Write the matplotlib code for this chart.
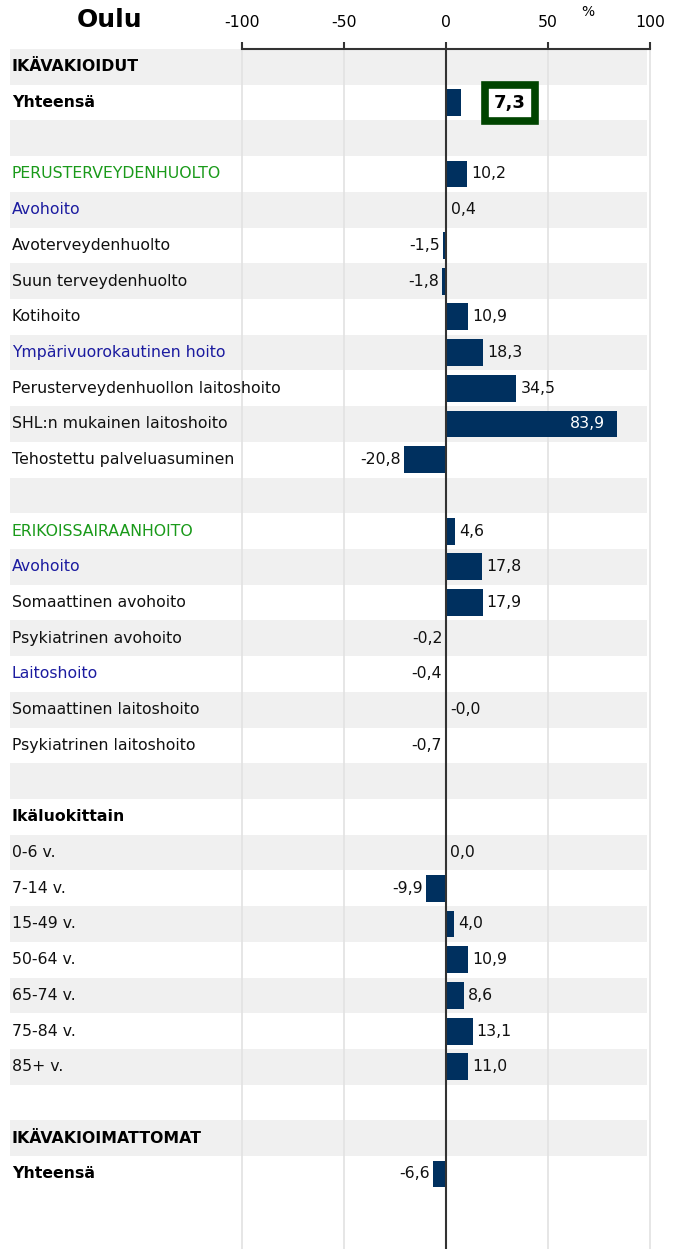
import numpy as np
import matplotlib

matplotlib.use("Agg")
import matplotlib.pyplot as plt

plt.rcParams["font.family"] = ["DejaVu Sans"]

# rivit ylhäältä alas
row_labels = [
    "IKÄVAKIOIDUT", "Yhteensä", "",
    "PERUSTERVEYDENHUOLTO", "Avohoito", "Avoterveydenhuolto", "Suun terveydenhuolto",
    "Kotihoito", "Ympärivuorokautinen hoito", "Perusterveydenhuollon laitoshoito",
    "SHL:n mukainen laitoshoito", "Tehostettu palveluasuminen", "",
    "ERIKOISSAIRAANHOITO", "Avohoito", "Somaattinen avohoito", "Psykiatrinen avohoito",
    "Laitoshoito", "Somaattinen laitoshoito", "Psykiatrinen laitoshoito", "",
    "Ikäluokittain", "0-6 v.", "7-14 v.", "15-49 v.", "50-64 v.", "65-74 v.",
    "75-84 v.", "85+ v.", "",
    "IKÄVAKIOIMATTOMAT", "Yhteensä",
]
row_kinds = [
    "head", "head", "",
    "main", "sub", "plain", "plain",
    "plain", "sub", "plain",
    "plain", "plain", "",
    "main", "sub", "plain", "plain",
    "sub", "plain", "plain", "",
    "head", "plain", "plain", "plain", "plain", "plain",
    "plain", "plain", "",
    "head", "head",
]
nan = np.nan
values = [
    nan, 7.3, nan,
    10.2, 0.4, -1.5, -1.8,
    10.9, 18.3, 34.5,
    83.9, -20.8, nan,
    4.6, 17.8, 17.9, -0.2,
    -0.4, -0.0, -0.7, nan,
    nan, 0.0, -9.9, 4.0, 10.9, 8.6,
    13.1, 11.0, nan,
    nan, -6.6,
]
highlight_row = 1
ticks = [-100, -50, 0, 50, 100]

KIND_STYLE = {
    "head": ("#000000", "bold"),
    "main": ("#1a9a1a", "normal"),
    "sub": ("#1c1ca0", "normal"),
    "plain": ("#111111", "normal"),
    "": ("#000000", "normal"),
}
BAR_COLOR = "#00305f"
BAND_COLOR = "#f0f0f0"
GRID_COLOR = "#e2e2e2"
FS = 11.3

W, H = 681, 1249
fig = plt.figure(figsize=(W / 100, H / 100), dpi=100)

# pikselit -> datayksiköt: 0 kohdassa x=446, 2.04 px / %
px_per = 2.04
x0 = 446
left_px, right_px, top_px = 10, 655, 49
xmin = (left_px - x0) / px_per
xmax = (right_px - x0) / px_per
ax = fig.add_axes([left_px / W, 0, (right_px - left_px) / W, 1 - top_px / H])
ax.set_xlim(xmin, xmax)
ax.set_ylim(33.1, -0.5)

n = len(row_labels)
band_end = (647 - x0) / px_per
band_frac = (band_end - xmin) / (xmax - xmin)
for i in range(0, n, 2):
    ax.axhspan(i - 0.5, i + 0.5, xmin=0, xmax=band_frac, color=BAND_COLOR, lw=0, zorder=0)

for t in ticks:
    if t != 0:
        ax.axvline(t, color=GRID_COLOR, lw=1.2, zorder=1)

ys = np.arange(n)
vals = np.array(values, dtype=float)
mask = ~np.isnan(vals)
ax.barh(ys[mask], vals[mask], height=0.75, color=BAR_COLOR, zorder=2)
ax.axvline(0, color="#333333", lw=1.5, zorder=3)

for i, (lab, kind) in enumerate(zip(row_labels, row_kinds)):
    if not lab:
        continue
    color, weight = KIND_STYLE[kind]
    ax.text(xmin + 2 / px_per, i, lab, ha="left", va="center", fontsize=FS,
            color=color, fontweight=weight, zorder=4)

for i, v in enumerate(values):
    if np.isnan(v):
        continue
    txt = f"{v:.1f}".replace(".", ",")
    if i == highlight_row:
        ax.text(31.4, i, txt, ha="center", va="center", fontsize=13, fontweight="bold",
                zorder=5,
                bbox=dict(boxstyle="square,pad=0.5", facecolor="white",
                          edgecolor="#004400", linewidth=5.5))
    elif v > 60:
        ax.text(v - 12 / px_per, i, txt, ha="right", va="center", fontsize=FS,
                color="white", zorder=4)
    elif v >= 0:
        ax.text(v + 4 / px_per, i, txt, ha="left", va="center", fontsize=FS,
                color="#111111", zorder=4)
    else:
        ax.text(v - 3 / px_per, i, txt, ha="right", va="center", fontsize=FS,
                color="#111111", zorder=4)

for side in ["left", "right", "bottom"]:
    ax.spines[side].set_visible(False)
ax.spines["top"].set_bounds(-100, 100)
ax.spines["top"].set_color("#333333")
ax.spines["top"].set_linewidth(1.5)
ax.xaxis.tick_top()
ax.set_xticks(ticks)
ax.set_xticklabels([str(t) for t in ticks], fontsize=FS)
ax.tick_params(axis="x", direction="out", length=5, width=1.5, color="#333333", pad=9)
ax.set_yticks([])

fig.text(110 / W, 1 - 20 / H, "Oulu", ha="center", va="center", fontsize=18, fontweight="bold")
fig.text(588 / W, 1 - 12 / H, "%", ha="center", va="center", fontsize=10)

fig.savefig("out.png", dpi=100)
